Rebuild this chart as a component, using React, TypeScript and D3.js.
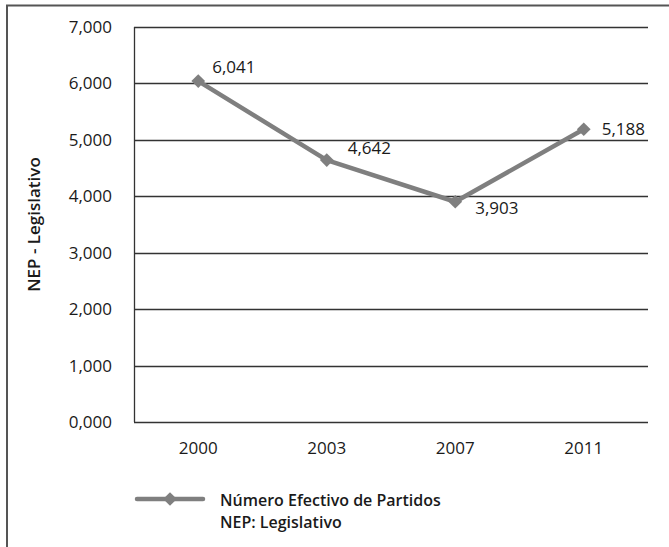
import React, { useRef, useEffect } from 'react';
import * as d3 from 'd3';

const years = ['2000', '2003', '2007', '2011'];
const nepValues = [6.041, 4.642, 3.903, 5.188];
const valueLabels = ['6,041', '4,642', '3,903', '5,188'];
const yTicks = [0, 1, 2, 3, 4, 5, 6, 7];
const yTickLabels = ['0,000', '1,000', '2,000', '3,000', '4,000', '5,000', '6,000', '7,000'];
const legendLines = ['Número Efectivo de Partidos', 'NEP: Legislativo'];
const yTitle = 'NEP - Legislativo';

// label offsets relative to each marker (dx, dy of text start/baseline)
const labelOffsets: [number, number][] = [
  [14, -8],
  [21, -6],
  [20, 12],
  [18, 6],
];

const W = 669;
const H = 547;
const FONT = '"Open Sans", sans-serif';
const TEXT = '#1a1a1a';
const LINE = '#7f7f7f';

export default function App() {
  const ref = useRef<SVGSVGElement>(null);

  useEffect(() => {
    if (!ref.current) return;
    const svg = d3.select(ref.current);
    svg.selectAll('*').remove();

    const plot = { left: 134, right: 648, top: 27, bottom: 422 };

    const x = d3.scaleBand<string>().domain(years).range([plot.left, plot.right]);
    const y = d3.scaleLinear().domain([0, 7]).range([plot.bottom, plot.top]);

    // outer frame
    svg
      .append('path')
      .attr('d', `M7,${H} V5.5 H${W + 5}`)
      .attr('fill', 'none')
      .attr('stroke', '#555')
      .attr('stroke-width', 2);

    // gridlines
    svg
      .append('g')
      .selectAll('line')
      .data(yTicks)
      .join('line')
      .attr('x1', plot.left)
      .attr('x2', plot.right)
      .attr('y1', d => Math.round(y(d)) + 0.5)
      .attr('y2', d => Math.round(y(d)) + 0.5)
      .attr('stroke', '#333')
      .attr('stroke-width', 1.3);

    // left axis line
    svg
      .append('line')
      .attr('x1', plot.left + 0.5)
      .attr('x2', plot.left + 0.5)
      .attr('y1', plot.top)
      .attr('y2', plot.bottom)
      .attr('stroke', '#333')
      .attr('stroke-width', 1.3);

    // y tick labels
    svg
      .append('g')
      .selectAll('text')
      .data(yTicks)
      .join('text')
      .attr('x', 112)
      .attr('y', d => y(d) + 6)
      .attr('text-anchor', 'end')
      .attr('font-family', FONT)
      .attr('font-size', 17)
      .attr('fill', TEXT)
      .text((d, i) => yTickLabels[i]);

    // x tick labels
    svg
      .append('g')
      .selectAll('text')
      .data(years)
      .join('text')
      .attr('x', d => (x(d) as number) + x.bandwidth() / 2)
      .attr('y', 454)
      .attr('text-anchor', 'middle')
      .attr('font-family', FONT)
      .attr('font-size', 17)
      .attr('fill', TEXT)
      .text(d => d);

    // y title
    svg
      .append('text')
      .attr('transform', `translate(40, ${(plot.top + plot.bottom) / 2}) rotate(-90)`)
      .attr('text-anchor', 'middle')
      .attr('font-family', FONT)
      .attr('font-size', 17)
      .attr('font-weight', 600)
      .attr('fill', TEXT)
      .text(yTitle);

    const px = (i: number) => (x(years[i]) as number) + x.bandwidth() / 2;

    const line = d3
      .line<number>()
      .x((d, i) => px(i))
      .y(d => y(d));

    svg
      .append('path')
      .datum(nepValues)
      .attr('d', line)
      .attr('fill', 'none')
      .attr('stroke', LINE)
      .attr('stroke-width', 4.5)
      .attr('stroke-linejoin', 'round');

    const diamond = d3.symbol().type(d3.symbolDiamond2).size(120);

    svg
      .append('g')
      .selectAll('path')
      .data(nepValues)
      .join('path')
      .attr('d', diamond)
      .attr('transform', (d, i) => `translate(${px(i)}, ${y(d)})`)
      .attr('fill', LINE);

    svg
      .append('g')
      .selectAll('text')
      .data(nepValues)
      .join('text')
      .attr('x', (d, i) => px(i) + labelOffsets[i][0])
      .attr('y', (d, i) => y(d) + labelOffsets[i][1])
      .attr('font-family', FONT)
      .attr('font-size', 17)
      .attr('fill', TEXT)
      .text((d, i) => valueLabels[i]);

    // legend
    const legendY = 499;
    svg
      .append('line')
      .attr('x1', 137)
      .attr('x2', 203)
      .attr('y1', legendY)
      .attr('y2', legendY)
      .attr('stroke', LINE)
      .attr('stroke-width', 4.5)
      .attr('stroke-linecap', 'round');
    svg
      .append('path')
      .attr('d', diamond)
      .attr('transform', `translate(170, ${legendY})`)
      .attr('fill', LINE);

    svg
      .append('g')
      .selectAll('text')
      .data(legendLines)
      .join('text')
      .attr('x', 220)
      .attr('y', (d, i) => 506 + i * 22)
      .attr('font-family', FONT)
      .attr('font-size', 16)
      .attr('font-weight', 600)
      .attr('fill', TEXT)
      .text(d => d);
  }, []);

  return (
    <svg
      ref={ref}
      width={W}
      height={H}
      style={{ position: 'absolute', left: 0, top: 0, background: '#fff' }}
    />
  );
}
